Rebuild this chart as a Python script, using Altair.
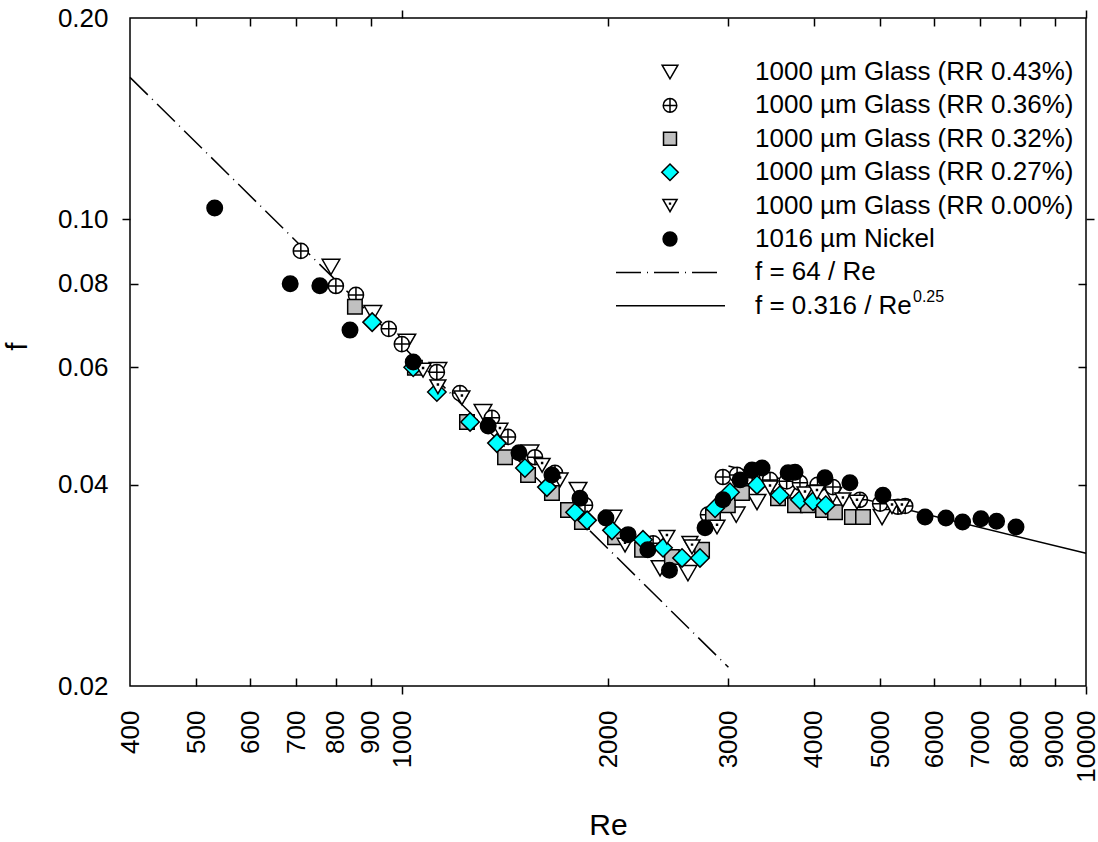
import altair as alt
import pandas as pd

# ---------------- data ----------------
series_names = [
    "1000 µm Glass (RR 0.43%)",
    "1000 µm Glass (RR 0.36%)",
    "1000 µm Glass (RR 0.32%)",
    "1000 µm Glass (RR 0.27%)",
    "1000 µm Glass (RR 0.00%)",
    "1016 µm Nickel",
]

re_43 = [787, 906, 1016, 1128, 1313, 1538, 1808, 2034, 2383, 2618, 3080, 3303, 3668, 4265, 5032]
f_43 = [0.0848, 0.0723, 0.0655, 0.0594, 0.0514, 0.0447, 0.0393, 0.0357, 0.0300, 0.0295,
        0.0361, 0.0377, 0.0390, 0.0386, 0.0358]

re_36 = [711, 800, 856, 956, 999, 1124, 1215, 1353, 1428, 1564, 1673, 1851, 2328, 2800,
         2945, 3089, 3250, 3451, 3650, 3817, 4050, 4265, 4671, 5000, 5309, 5440]
f_36 = [0.0896, 0.0794, 0.0770, 0.0685, 0.0650, 0.0590, 0.0549, 0.0504, 0.0472, 0.0440,
        0.0417, 0.0373, 0.0327, 0.0361, 0.0411, 0.0414, 0.0410, 0.0407, 0.0405, 0.0403,
        0.0400, 0.0397, 0.0380, 0.0375, 0.0371, 0.0372]

re_32 = [853, 1044, 1244, 1414, 1528, 1656, 1748, 1832, 2048, 2243, 2480, 2745, 2848,
         2994, 3140, 3545, 3754, 3921, 4125, 4295, 4547, 4720]
f_32 = [0.0739, 0.0599, 0.0497, 0.0440, 0.0414, 0.0389, 0.0367, 0.0352, 0.0334, 0.0320,
        0.0312, 0.0320, 0.0358, 0.0373, 0.0389, 0.0382, 0.0373, 0.0373, 0.0367, 0.0364,
        0.0358, 0.0358]

re_27 = [904, 1038, 1124, 1257, 1376, 1512, 1628, 1790, 1864, 2027, 2250, 2407, 2566,
         2726, 2868, 3016, 3303, 3567, 3817, 3988, 4164]
f_27 = [0.0701, 0.0600, 0.0551, 0.0497, 0.0462, 0.0424, 0.0397, 0.0364, 0.0354, 0.0342,
        0.0331, 0.0322, 0.0311, 0.0311, 0.0369, 0.0390, 0.0400, 0.0386, 0.0380, 0.0378,
        0.0373]

re_00 = [1073, 1128, 1223, 1390, 1602, 1702, 2118, 2439, 2635, 2654, 2887, 3451, 3882,
         4042, 4411, 4625, 5204, 5380]
f_00 = [0.0594, 0.0561, 0.0540, 0.0483, 0.0428, 0.0407, 0.0325, 0.0334, 0.0327, 0.0323,
        0.0346, 0.0396, 0.0388, 0.0390, 0.0380, 0.0377, 0.0371, 0.0371]

re_ni = [532, 686, 758, 839, 1038, 1336, 1482, 1656, 1820, 1986, 2140, 2287, 2460, 2773,
         2945, 3120, 3248, 3360, 3668, 3754, 4152, 4516, 5048, 5816, 6240, 6600, 7020,
         7400, 7900]
f_ni = [0.1039, 0.0800, 0.0795, 0.0682, 0.0611, 0.0490, 0.0447, 0.0414, 0.0382, 0.0357,
        0.0337, 0.0320, 0.0298, 0.0345, 0.0380, 0.0407, 0.0421, 0.0424, 0.0417, 0.0418,
        0.0410, 0.0403, 0.0386, 0.0358, 0.0357, 0.0352, 0.0356, 0.0353, 0.0346]

# correlation lines (end points)
lam_re = [400, 3000]      # f = 64 / Re
lam_f = [0.163, 0.02133]
turb_re = [3000, 10000]   # f = 0.316 / Re^0.25
turb_f = [0.0427, 0.0316]

line_labels = ["f = 64 / Re", "f = 0.316 / Re"]
sup_label = "0.25"

x_label_values = [400, 500, 600, 700, 800, 900, 1000, 2000, 3000, 4000, 5000, 6000,
                  7000, 8000, 9000, 10000]
x_major = [1000, 10000]
x_minor = [500, 600, 700, 800, 900, 2000, 3000, 4000, 5000, 6000, 7000, 8000, 9000]
y_label_values = [0.02, 0.04, 0.06, 0.08, 0.10, 0.20]
y_major = [0.10]
y_minor = [0.04, 0.06, 0.08]

# ---------------- styling ----------------
FONT = "Liberation Sans"
W, H = 956, 668
xscale = alt.Scale(type="log", domain=[400, 10000], nice=False)
yscale = alt.Scale(type="log", domain=[0.02, 0.2], nice=False)

CIRCLE_PLUS = "M-1,0A1,1,0,1,1,1,0A1,1,0,1,1,-1,0Z M-1,0L1,0 M0,-1L0,1"
TRI_DOWN = "M0,0.866L-1,-0.866L1,-0.866Z"
TRI_DOT = "M0,0.866L-1,-0.866L1,-0.866Z M-0.06,-0.35L0.06,-0.35L0.06,-0.23L-0.06,-0.23Z"
DASH = [25, 6, 1, 6]

styles = [
    dict(shape=TRI_DOWN, fill="white", size=310),
    dict(shape=CIRCLE_PLUS, fill="white", size=230),
    dict(shape="square", fill="#c0c0c0", size=210),
    dict(shape="diamond", fill="#00ffff", size=340),
    dict(shape=TRI_DOT, fill="white", size=250),
    dict(shape="circle", fill="black", size=240),
]
data_sets = [(re_43, f_43), (re_36, f_36), (re_32, f_32), (re_27, f_27), (re_00, f_00), (re_ni, f_ni)]


def xenc(axis=None):
    return alt.X("Re:Q", scale=xscale, axis=axis)


def yenc(axis=None):
    return alt.Y("f:Q", scale=yscale, axis=axis)


lam_df = pd.DataFrame({"Re": lam_re, "f": lam_f})
turb_df = pd.DataFrame({"Re": turb_re, "f": turb_f})

layers = []

# correlation lines
layers.append(alt.Chart(lam_df).mark_line(color="black", strokeWidth=1.5, strokeDash=DASH)
              .encode(x=xenc(), y=yenc()))
layers.append(alt.Chart(turb_df).mark_line(color="black", strokeWidth=1.5)
              .encode(x=xenc(), y=yenc()))


# axes (each in its own invisible layer, axes resolved independently)
def tick_axis(orient, values, offset=0):
    kw = dict(orient=orient, values=values, labels=False, domain=False, grid=False,
              ticks=True, tickSize=8, tickWidth=1.5, tickColor="black", title="")
    if offset:
        kw["offset"] = offset
    return alt.Axis(**kw)


x_label_axis = alt.Axis(orient="bottom", values=x_label_values, format="d", ticks=False,
                        tickSize=0, domain=False, grid=False, labelAngle=270,
                        labelAlign="right", labelBaseline="middle", labelPadding=24,
                        labelFont=FONT, labelFontSize=26, labelColor="black",
                        labelOverlap=False, labelFlush=False, labelBound=False,
                        title="Re", titleFont=FONT, titleFontSize=30,
                        titleFontWeight="normal", titleColor="black",
                        titleX=W / 2, titleY=148, titleBaseline="alphabetic",
                        titleAlign="center")
y_label_axis = alt.Axis(orient="left", values=y_label_values, format=".2f", ticks=False,
                        tickSize=0, domain=False, grid=False, labelPadding=22,
                        labelFont=FONT, labelFontSize=26, labelColor="black",
                        labelOverlap=False, labelFlush=False, labelBound=False,
                        title="f", titleFont=FONT, titleFontSize=30,
                        titleFontWeight="normal", titleColor="black",
                        titleX=-104, titleY=328, titleAngle=270,
                        titleBaseline="alphabetic", titleAlign="center")

axis_pairs = [
    (x_label_axis, y_label_axis),
    (tick_axis("bottom", x_major), tick_axis("left", y_major)),
    (tick_axis("bottom", x_minor, -8), tick_axis("left", y_minor, -8)),
    (tick_axis("top", x_major), tick_axis("right", y_major)),
    (tick_axis("top", x_minor, -8), tick_axis("right", y_minor, -8)),
]
for xa, ya in axis_pairs:
    layers.append(alt.Chart(lam_df).mark_line(opacity=0)
                  .encode(x=xenc(xa), y=yenc(ya)))

# data points
for (rv, fv), st in zip(data_sets, styles):
    d = pd.DataFrame({"Re": rv, "f": fv})
    layers.append(alt.Chart(d).mark_point(shape=st["shape"], filled=True, fill=st["fill"],
                                          stroke="black", strokeWidth=1.5, size=st["size"],
                                          opacity=1)
                  .encode(x=xenc(), y=yenc()))

# ---------------- manual legend ----------------
LEG_SYM_X = 540
LEG_TXT_X = 625
LEG_Y0 = 54
LEG_DY = 33.4
for i, (name, st) in enumerate(zip(series_names, styles)):
    yy = LEG_Y0 + LEG_DY * i
    one = pd.DataFrame({"label": [name]})
    layers.append(alt.Chart(one).mark_point(shape=st["shape"], filled=True, fill=st["fill"],
                                            stroke="black", strokeWidth=1.5,
                                            size=st["size"] * 0.8, opacity=1)
                  .encode(x=alt.value(LEG_SYM_X), y=alt.value(yy)))
    layers.append(alt.Chart(one).mark_text(align="left", baseline="middle", font=FONT,
                                           fontSize=26, color="black")
                  .encode(x=alt.value(LEG_TXT_X), y=alt.value(yy), text="label:N"))

y_dash = LEG_Y0 + LEG_DY * 6
y_solid = LEG_Y0 + LEG_DY * 7
one = pd.DataFrame({"label": [line_labels[0]]})
layers.append(alt.Chart(one).mark_rule(color="black", strokeWidth=1.5, strokeDash=DASH)
              .encode(x=alt.value(486), x2=alt.value(587), y=alt.value(y_dash)))
layers.append(alt.Chart(one).mark_text(align="left", baseline="middle", font=FONT,
                                       fontSize=26, color="black")
              .encode(x=alt.value(LEG_TXT_X), y=alt.value(y_dash), text="label:N"))
two = pd.DataFrame({"label": [line_labels[1]], "sup": [sup_label]})
layers.append(alt.Chart(two).mark_rule(color="black", strokeWidth=1.5)
              .encode(x=alt.value(486), x2=alt.value(595), y=alt.value(y_solid)))
layers.append(alt.Chart(two).mark_text(align="left", baseline="middle", font=FONT,
                                       fontSize=26, color="black")
              .encode(x=alt.value(LEG_TXT_X), y=alt.value(y_solid), text="label:N"))
layers.append(alt.Chart(two).mark_text(align="left", baseline="middle", font=FONT,
                                       fontSize=16, color="black")
              .encode(x=alt.value(LEG_TXT_X + 158), y=alt.value(y_solid - 9), text="sup:N"))

chart = (
    alt.layer(*layers)
    .resolve_axis(x="independent", y="independent")
    .properties(width=W, height=H, background="white",
                autosize=alt.AutoSizeParams(type="none"),
                padding={"left": 130, "top": 18, "right": 12, "bottom": 156})
    .configure_view(stroke="black", strokeWidth=1.5)
)

chart.save("out.html", embed_options={"renderer": "svg", "actions": False})
